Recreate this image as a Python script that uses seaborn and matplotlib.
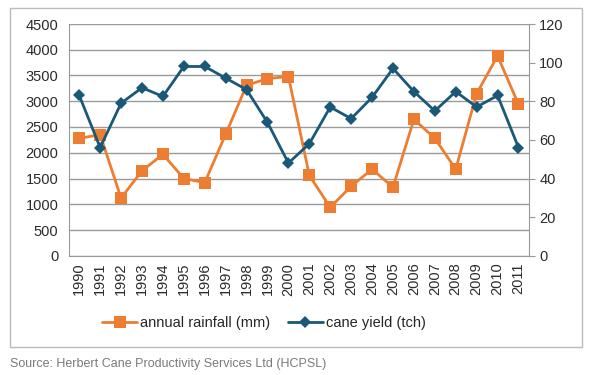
import numpy as np
import pandas as pd
import matplotlib.pyplot as plt
import seaborn as sns
from matplotlib.patches import Rectangle

years = [str(y) for y in range(1990, 2012)]
rainfall = [2280, 2350, 1120, 1650, 1970, 1500, 1420, 2360, 3310, 3440, 3480,
            1560, 940, 1350, 1680, 1330, 2650, 2280, 1680, 3150, 3880, 2940]
cane_yield = [83, 56, 79, 87, 82.5, 98, 98, 92, 86, 69, 48,
              58, 77, 71, 82, 97, 85, 75, 85, 77, 83, 56]

orange = '#ED7D31'
blue = '#1A5878'

sns.set_style('white')
plt.rcParams['font.family'] = ['Liberation Sans', 'DejaVu Sans']

df = pd.DataFrame({'year': years, 'x': np.arange(len(years)),
                   'rain': rainfall, 'yield': cane_yield})

fig = plt.figure(figsize=(5.93, 3.75), dpi=100)
ax = fig.add_axes([0.116, 0.318, 0.776, 0.618])
ax2 = ax.twinx()

sns.lineplot(data=df, x='x', y='rain', ax=ax, color=orange, lw=2,
             marker='s', markersize=8, markeredgewidth=0, label='annual rainfall (mm)',
             legend=False)
sns.lineplot(data=df, x='x', y='yield', ax=ax2, color=blue, lw=2,
             marker='D', markersize=6.5, markeredgewidth=0, label='cane yield (tch)',
             legend=False)

ax.set_ylim(0, 4500)
ax.set_yticks(range(0, 4501, 500))
ax2.set_ylim(0, 120)
ax2.set_yticks(range(0, 121, 20))
ax.set_xlim(-0.5, len(years) - 0.5)
ax.set_xticks(df['x'])
ax.set_xticklabels(years, rotation=90)
ax.set_xticks(np.arange(-0.5, len(years)), minor=True)
ax.tick_params(axis='x', which='major', length=0, labelsize=10.5, pad=5, colors='#2b2b2b')
ax.tick_params(axis='x', which='minor', length=4, color='#999999')
ax.tick_params(axis='y', length=4, color='#999999', labelsize=10.5, colors='#2b2b2b', left=False)
ax2.tick_params(axis='y', length=4, color='#999999', labelsize=10.5, colors='#2b2b2b', right=True)
ax.yaxis.grid(True, color='#9A9A9A', lw=1)
ax.set_xlabel('')
ax.set_ylabel('')
ax2.set_ylabel('')

for a in (ax, ax2):
    for s in a.spines.values():
        s.set_visible(False)
ax.spines['bottom'].set_visible(True)
ax.spines['bottom'].set_color('#999999')
ax.spines['left'].set_visible(True)
ax.spines['left'].set_color('#999999')
ax2.spines['right'].set_visible(True)
ax2.spines['right'].set_color('#999999')
ax.spines['left'].set_linewidth(0.8)

h1, l1 = ax.get_legend_handles_labels()
h2, l2 = ax2.get_legend_handles_labels()
fig.legend(h1 + h2, l1 + l2, loc='center', bbox_to_anchor=(0.445, 0.138), ncol=2,
           frameon=False, fontsize=10.5, handlelength=2.4, columnspacing=1.2,
           handletextpad=0.2)

fig.patches.append(Rectangle((0.017, 0.075), 0.965, 0.905, transform=fig.transFigure,
                             fill=False, edgecolor='#BBBBBB', lw=1))
fig.text(0.017, 0.02, 'Source: Herbert Cane Productivity Services Ltd (HCPSL)',
         fontsize=9, color='#7a7a7a')

fig.savefig('out.png', dpi=100)
